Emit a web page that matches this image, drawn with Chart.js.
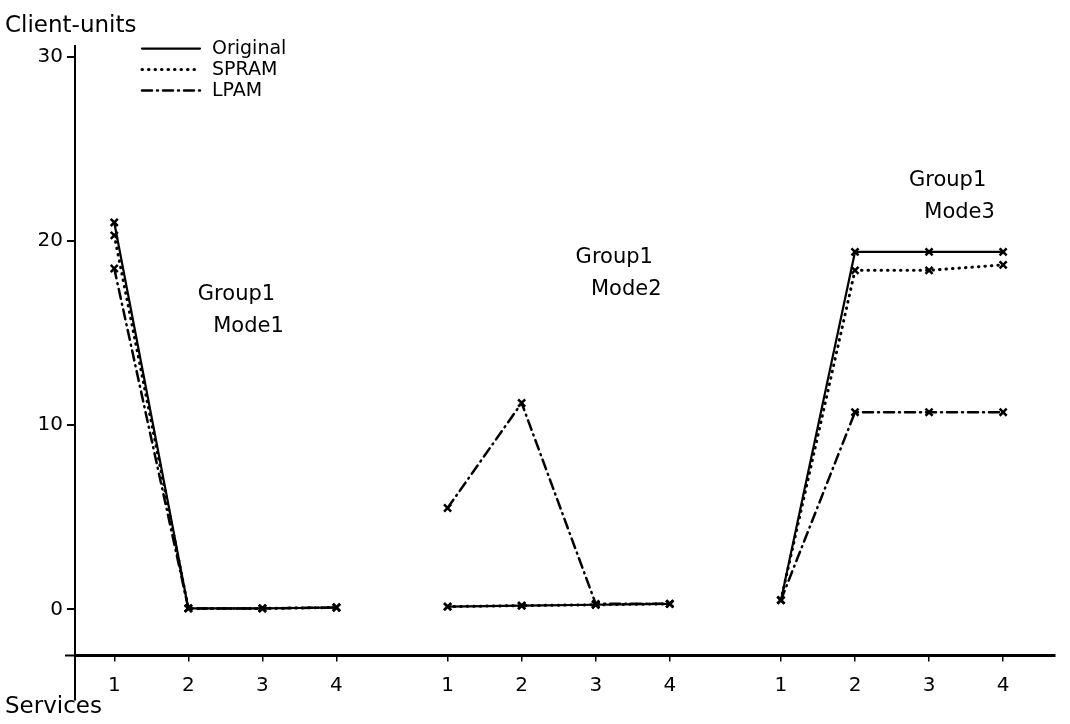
<!DOCTYPE html>
<html>
<head>
<meta charset="utf-8">
<script src="https://cdn.jsdelivr.net/npm/chart.js@4"></script>
<style>
  body { margin: 0; background: #fff; }
  #wrap { width: 1070px; height: 724px; }
</style>
</head>
<body>
<div id="wrap"><canvas id="chart"></canvas></div>
<script>
// x position of each service on the axis (three groups of four services)
const serviceX = [1, 2, 3, 4, 5.5, 6.5, 7.5, 8.5, 10, 11, 12, 13];
const serviceLabels = ['1', '2', '3', '4', '1', '2', '3', '4', '1', '2', '3', '4'];
const yTicks = [0, 10, 20, 30];

// client-units per service (Group1 Mode1 | Mode2 | Mode3)
const original = [21.0, 0.05, 0.05, 0.1, 0.15, 0.2, 0.25, 0.3, 0.5, 19.4, 19.4, 19.4];
const spram = [20.3, 0.05, 0.05, 0.1, 0.15, 0.2, 0.25, 0.3, 0.5, 18.4, 18.4, 18.7];
const lpam = [18.5, 0.05, 0.05, 0.1, 5.5, 11.2, 0.3, 0.3, 0.5, 10.7, 10.7, 10.7];

const groupNotes = [
    { lines: ['Group1', 'Mode1'], x: 2.65, y: 17.1 },
    { lines: ['Group1', 'Mode2'], x: 7.75, y: 19.1 },
    { lines: ['Group1', 'Mode3'], x: 12.25, y: 23.3 }
];

const FONT = "'DejaVu Sans', sans-serif";

// split into groups so the lines break between them
function toPoints(values) {
    const pts = [];
    values.forEach((v, i) => {
        if (i > 0 && i % 4 === 0) pts.push({ x: serviceX[i] - 0.75, y: null });
        pts.push({ x: serviceX[i], y: v });
    });
    return pts;
}

function series(label, values, dash, width) {
    return {
        label: label,
        data: toPoints(values),
        borderColor: '#000',
        backgroundColor: '#000',
        borderWidth: width,
        borderDash: dash,
        borderCapStyle: 'round',
        pointStyle: 'crossRot',
        pointRadius: 5,
        pointBorderWidth: 2.5,
        pointBorderColor: '#000',
        spanGaps: false,
        tension: 0
    };
}

const handPlugin = {
    id: 'handPlugin',
    afterDraw(chart) {
        const ctx = chart.ctx;
        const xs = chart.scales.x, ys = chart.scales.y;
        const area = chart.chartArea;
        ctx.save();
        ctx.strokeStyle = '#000';
        ctx.fillStyle = '#000';
        ctx.lineWidth = 2;
        // axis overshoot like the hand-drawn original
        ctx.beginPath();
        ctx.moveTo(area.left, area.bottom);
        ctx.lineTo(area.left, area.bottom + 45);
        ctx.moveTo(area.left - 10, area.bottom);
        ctx.lineTo(area.left, area.bottom);
        ctx.stroke();

        // legend
        ctx.font = '19px ' + FONT;
        ctx.textBaseline = 'middle';
        chart.data.datasets.forEach((ds, i) => {
            const y = area.top + 3 + i * 21;
            ctx.lineWidth = ds.borderWidth;
            ctx.lineCap = 'round';
            ctx.setLineDash(ds.borderDash);
            ctx.beginPath();
            ctx.moveTo(142, y);
            ctx.lineTo(200, y);
            ctx.stroke();
            ctx.setLineDash([]);
            ctx.fillText(ds.label, 212, y);
        });

        // group annotations
        ctx.font = '21px ' + FONT;
        ctx.textAlign = 'center';
        groupNotes.forEach(n => {
            const px = xs.getPixelForValue(n.x);
            const py = ys.getPixelForValue(n.y);
            n.lines.forEach((t, j) => ctx.fillText(t, px + j * 12, py + j * 32));
        });
        ctx.restore();
    }
};

new Chart(document.getElementById('chart'), {
    type: 'line',
    data: {
        datasets: [
            series('Original', original, [], 2.2),
            series('SPRAM', spram, [0.5, 6], 3),
            series('LPAM', lpam, [10, 5, 1, 5], 2.5)
        ]
    },
    options: {
        responsive: true,
        maintainAspectRatio: false,
        animation: false,
        layout: { padding: { left: 5, right: 15, top: 0, bottom: 0 } },
        plugins: {
            legend: { display: false },
            tooltip: { enabled: false },
            title: {
                display: true,
                text: 'Client-units',
                align: 'start',
                color: '#000',
                font: { family: FONT, size: 23, weight: 'normal' },
                padding: { top: 12, bottom: 6 }
            },
            subtitle: {
                display: true,
                position: 'bottom',
                text: 'Services',
                align: 'start',
                color: '#000',
                font: { family: FONT, size: 23, weight: 'normal' },
                padding: { top: 0, bottom: 3 }
            }
        },
        scales: {
            x: {
                type: 'linear',
                min: 0.47,
                max: 13.7,
                afterBuildTicks: axis => {
                    axis.ticks = serviceX.map(v => ({ value: v }));
                },
                afterFit: axis => { axis.height = 38; },
                ticks: {
                    color: '#000',
                    font: { family: FONT, size: 20 },
                    padding: 12,
                    maxRotation: 0,
                    callback: (v, i) => serviceLabels[i]
                },
                grid: { display: true, drawOnChartArea: false, tickLength: 6, color: '#000', lineWidth: 1.5 },
                border: { color: '#000', width: 3 }
            },
            y: {
                min: -2.5,
                max: 30.6,
                afterBuildTicks: axis => {
                    axis.ticks = yTicks.map(v => ({ value: v }));
                },
                afterFit: axis => { axis.width = 70; },
                ticks: {
                    color: '#000',
                    font: { family: FONT, size: 20 },
                    padding: 4
                },
                grid: { display: true, drawOnChartArea: false, tickLength: 8, color: '#000', lineWidth: 2 },
                border: { color: '#000', width: 2 }
            }
        }
    },
    plugins: [handPlugin]
});
</script>
</body>
</html>
